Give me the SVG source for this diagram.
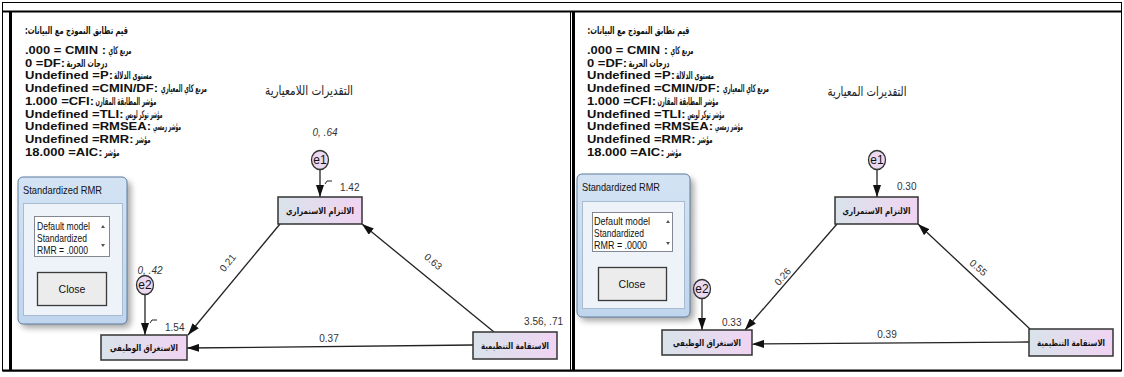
<svg xmlns="http://www.w3.org/2000/svg" width="1124" height="377" viewBox="0 0 1124 377">
<style>
.en{font-family:"Liberation Sans",Arial,sans-serif;font-weight:bold;font-size:11.3px;fill:#111}
.ar{font-family:"DejaVu Sans",sans-serif;font-weight:bold;font-size:10.5px;fill:#111}
.head{font-family:"DejaVu Sans",sans-serif;font-size:13px;fill:#222}
.box{fill:url(#boxg);stroke:#333;stroke-width:1.5}
.boxt{font-family:"DejaVu Sans",sans-serif;font-weight:bold;font-size:8.8px;fill:#111}
.err{fill:#ead9f0;stroke:#333;stroke-width:1.3}
.errt{font-family:"Liberation Sans",Arial,sans-serif;font-size:12px;fill:#111}
.num{font-family:"Liberation Sans",Arial,sans-serif;font-size:10px;fill:#333}
.var{font-family:"Liberation Sans",Arial,sans-serif;font-size:10px;font-style:italic;fill:#333}
.con{stroke:#222;stroke-width:1.3;fill:none;marker-end:url(#ah)}
.tick{stroke:#222;stroke-width:1;fill:none}
.dlg{fill:url(#aero);stroke:#5f7d9e;stroke-width:1}
.dlgin{fill:#edf3f9;stroke:#a9bccf;stroke-width:1}
.lst{fill:#fff;stroke:#828790;stroke-width:1}
.dt{font-family:"Liberation Sans",Arial,sans-serif;font-size:10.5px;fill:#111}
.btn{fill:#ececec;stroke:#3a3a3a;stroke-width:1.3}
.frm{stroke:#000;fill:none}
</style>
<defs>
<linearGradient id="boxg" x1="0" y1="0" x2="1" y2="0">
<stop offset="0" stop-color="#d9e3ea"/>
<stop offset="1" stop-color="#f0d4f3"/>
</linearGradient>
<linearGradient id="aero" x1="0" y1="0" x2="0" y2="1">
<stop offset="0" stop-color="#d3e3f4"/>
<stop offset="1" stop-color="#c0d6ee"/>
</linearGradient>
<filter id="sh" x="-20%" y="-20%" width="140%" height="140%">
<feGaussianBlur stdDeviation="3"/>
</filter>
<marker id="ah" markerWidth="12" markerHeight="8" refX="12" refY="4" orient="auto" markerUnits="userSpaceOnUse">
<path d="M0,0 L12,4 L0,8 z" fill="#111"/>
</marker>
</defs>
<rect width="1124" height="377" fill="#fff"/>

<g id="frame">
<rect class="frm" x="2.5" y="2.5" width="1119" height="368.5" stroke-width="1"/>
<line class="frm" x1="3" y1="11.5" x2="1121" y2="11.5" stroke-width="2"/>
<line class="frm" x1="10.5" y1="11" x2="10.5" y2="371" stroke-width="3"/>
<line class="frm" x1="570.5" y1="11" x2="570.5" y2="371" stroke-width="1"/>
<line class="frm" x1="573.5" y1="11" x2="573.5" y2="371" stroke-width="3"/>
<line class="frm" x1="3" y1="370.5" x2="1121" y2="370.5" stroke-width="2"/>
</g>

<!-- LEFT PANEL -->
<g id="L-fit">
<text class="ar" x="76.5" y="34" text-anchor="middle" direction="rtl" textLength="103" lengthAdjust="spacingAndGlyphs">قيم تطابق النموذج مع البيانات:</text>
<text class="en" x="25" y="54" textLength="81" lengthAdjust="spacingAndGlyphs">.000 = CMIN :</text>
<text class="ar" x="120" y="54" text-anchor="middle" textLength="23" lengthAdjust="spacingAndGlyphs">مربع كاي</text>
<text class="en" x="25" y="66.7" textLength="40" lengthAdjust="spacingAndGlyphs">0 =DF:</text>
<text class="ar" x="87" y="66.7" text-anchor="middle" textLength="41" lengthAdjust="spacingAndGlyphs">درجات الحرية</text>
<text class="en" x="25" y="79.4" textLength="88" lengthAdjust="spacingAndGlyphs">Undefined =P:</text>
<text class="ar" x="133" y="79.4" text-anchor="middle" textLength="38" lengthAdjust="spacingAndGlyphs">مستوى الدلالة</text>
<text class="en" x="25" y="92.1" textLength="133" lengthAdjust="spacingAndGlyphs">Undefined =CMIN/DF:</text>
<text class="ar" x="184" y="92.1" text-anchor="middle" textLength="46" lengthAdjust="spacingAndGlyphs">مربع كاي المعياري</text>
<text class="en" x="25" y="104.8" textLength="69" lengthAdjust="spacingAndGlyphs">1.000 =CFI:</text>
<text class="ar" x="126" y="104.8" text-anchor="middle" textLength="61" lengthAdjust="spacingAndGlyphs">مؤشر المطابقة المقارن</text>
<text class="en" x="25" y="117.5" textLength="98.5" lengthAdjust="spacingAndGlyphs">Undefined =TLI:</text>
<text class="ar" x="144" y="117.5" text-anchor="middle" textLength="37" lengthAdjust="spacingAndGlyphs">مؤشر توكر لويس</text>
<text class="en" x="25" y="130.2" textLength="126" lengthAdjust="spacingAndGlyphs">Undefined =RMSEA:</text>
<text class="ar" x="167" y="130.2" text-anchor="middle" textLength="28" lengthAdjust="spacingAndGlyphs">مؤشر رمسي</text>
<text class="en" x="25" y="142.9" textLength="108.5" lengthAdjust="spacingAndGlyphs">Undefined =RMR:</text>
<text class="ar" x="143" y="142.9" text-anchor="middle" textLength="15" lengthAdjust="spacingAndGlyphs">مؤشر</text>
<text class="en" x="25" y="155.6" textLength="77.5" lengthAdjust="spacingAndGlyphs">18.000 =AIC:</text>
<text class="ar" x="112" y="155.6" text-anchor="middle" textLength="15" lengthAdjust="spacingAndGlyphs">مؤشر</text>
</g>
<g id="L-heading">
<text class="head" x="309" y="95" text-anchor="middle" textLength="88" lengthAdjust="spacingAndGlyphs">التقديرات اللامعيارية</text>
</g>

<g id="L-dialog">
<rect x="21" y="181" width="110" height="147" rx="6" fill="#000" opacity="0.35" filter="url(#sh)"/>
<rect class="dlg" x="18" y="177" width="109" height="147" rx="5"/>
<text class="dt" x="23" y="194" font-size="11" textLength="79" lengthAdjust="spacingAndGlyphs">Standardized RMR</text>
<rect class="dlgin" x="23.5" y="203.5" width="99" height="112"/>
<rect class="lst" x="34.5" y="216.5" width="75" height="40"/>
<text class="dt" x="37" y="230" textLength="53" lengthAdjust="spacingAndGlyphs">Default model</text>
<text class="dt" x="37" y="241.5" textLength="50" lengthAdjust="spacingAndGlyphs">Standardized</text>
<text class="dt" x="37" y="253.5" textLength="51" lengthAdjust="spacingAndGlyphs">RMR = .0000</text>
<path d="M101,228 L103,225 L105,228 z" fill="#555"/>
<path d="M101,244 L103,247 L105,244 z" fill="#555"/>
<rect class="btn" x="37.5" y="272.5" width="69" height="33"/>
<text class="dt" x="72" y="293" text-anchor="middle" font-size="11">Close</text>
</g>

<g id="L-connectors">
<line class="con" x1="320" y1="169.5" x2="320" y2="197"/>
<line class="con" x1="145" y1="294.5" x2="145" y2="335"/>
<line class="con" x1="280" y1="224" x2="188" y2="335"/>
<line class="con" x1="494" y1="332" x2="362" y2="224"/>
<line class="con" x1="473" y1="345" x2="187" y2="348"/>
<path class="tick" d="M325,184 L327,181 L332,181"/>
<path class="tick" d="M150,323 L152,320 L157,320"/>
<text class="num" x="228" y="266" text-anchor="middle" transform="rotate(-51 228 263)">0.21</text>
<text class="num" x="433" y="265" text-anchor="middle" transform="rotate(40 433 262)">0.63</text>
<text class="num" x="329" y="342" text-anchor="middle">0.37</text>
</g>

<g id="L-e1">
<ellipse class="err" cx="320" cy="160" rx="8.5" ry="9.5"/>
<text class="errt" x="320" y="164.3" text-anchor="middle">e1</text>
<text class="var" x="325" y="136" text-anchor="middle">0, .64</text>
</g>
<g id="L-e2">
<ellipse class="err" cx="145" cy="285" rx="8.5" ry="9.5"/>
<text class="errt" x="145" y="289.3" text-anchor="middle">e2</text>
<text class="var" x="150" y="274" text-anchor="middle">0, .42</text>
</g>
<g id="L-A">
<rect class="box" x="278" y="197" width="84" height="27"/>
<text class="boxt" x="320" y="213.5" text-anchor="middle" textLength="68" lengthAdjust="spacingAndGlyphs">الالتزام الاستمراري</text>
<text class="num" x="340" y="191">1.42</text>
</g>
<g id="L-B">
<rect class="box" x="101" y="335" width="86" height="25"/>
<text class="boxt" x="144" y="350.5" text-anchor="middle" textLength="68" lengthAdjust="spacingAndGlyphs">الاستغراق الوظيفي</text>
<text class="num" x="165" y="331">1.54</text>
</g>
<g id="L-C">
<rect class="box" x="473" y="332" width="84" height="27"/>
<text class="boxt" x="515" y="348.5" text-anchor="middle" textLength="68" lengthAdjust="spacingAndGlyphs">الاستقامة التنظيمية</text>
<text class="num" x="563" y="325" text-anchor="end">3.56, .71</text>
</g>

<!-- RIGHT PANEL -->
<g id="R-fit">
<text class="ar" x="638.5" y="34" text-anchor="middle" direction="rtl" textLength="102" lengthAdjust="spacingAndGlyphs">قيم تطابق النموذج مع البيانات:</text>
<text class="en" x="587" y="54" textLength="81" lengthAdjust="spacingAndGlyphs">.000 = CMIN :</text>
<text class="ar" x="682" y="54" text-anchor="middle" textLength="23" lengthAdjust="spacingAndGlyphs">مربع كاي</text>
<text class="en" x="587" y="66.7" textLength="40" lengthAdjust="spacingAndGlyphs">0 =DF:</text>
<text class="ar" x="649" y="66.7" text-anchor="middle" textLength="41" lengthAdjust="spacingAndGlyphs">درجات الحرية</text>
<text class="en" x="587" y="79.4" textLength="88" lengthAdjust="spacingAndGlyphs">Undefined =P:</text>
<text class="ar" x="695" y="79.4" text-anchor="middle" textLength="38" lengthAdjust="spacingAndGlyphs">مستوى الدلالة</text>
<text class="en" x="587" y="92.1" textLength="133" lengthAdjust="spacingAndGlyphs">Undefined =CMIN/DF:</text>
<text class="ar" x="746" y="92.1" text-anchor="middle" textLength="46" lengthAdjust="spacingAndGlyphs">مربع كاي المعياري</text>
<text class="en" x="587" y="104.8" textLength="69" lengthAdjust="spacingAndGlyphs">1.000 =CFI:</text>
<text class="ar" x="688" y="104.8" text-anchor="middle" textLength="61" lengthAdjust="spacingAndGlyphs">مؤشر المطابقة المقارن</text>
<text class="en" x="587" y="117.5" textLength="98.5" lengthAdjust="spacingAndGlyphs">Undefined =TLI:</text>
<text class="ar" x="706" y="117.5" text-anchor="middle" textLength="37" lengthAdjust="spacingAndGlyphs">مؤشر توكر لويس</text>
<text class="en" x="587" y="130.2" textLength="126" lengthAdjust="spacingAndGlyphs">Undefined =RMSEA:</text>
<text class="ar" x="729" y="130.2" text-anchor="middle" textLength="28" lengthAdjust="spacingAndGlyphs">مؤشر رمسي</text>
<text class="en" x="587" y="142.9" textLength="108.5" lengthAdjust="spacingAndGlyphs">Undefined =RMR:</text>
<text class="ar" x="705" y="142.9" text-anchor="middle" textLength="15" lengthAdjust="spacingAndGlyphs">مؤشر</text>
<text class="en" x="587" y="155.6" textLength="77.5" lengthAdjust="spacingAndGlyphs">18.000 =AIC:</text>
<text class="ar" x="674" y="155.6" text-anchor="middle" textLength="15" lengthAdjust="spacingAndGlyphs">مؤشر</text>
</g>
<g id="R-heading">
<text class="head" x="867" y="96" text-anchor="middle" textLength="79" lengthAdjust="spacingAndGlyphs">التقديرات المعيارية</text>
</g>

<g id="R-dialog">
<rect x="580" y="178" width="114" height="143" rx="6" fill="#000" opacity="0.35" filter="url(#sh)"/>
<rect class="dlg" x="577" y="174" width="113" height="143" rx="5"/>
<text class="dt" x="582" y="191" font-size="11" textLength="78" lengthAdjust="spacingAndGlyphs">Standardized RMR</text>
<rect class="dlgin" x="582.5" y="201.5" width="102" height="107"/>
<rect class="lst" x="592.5" y="212.5" width="80" height="39"/>
<text class="dt" x="594" y="225" textLength="56" lengthAdjust="spacingAndGlyphs">Default model</text>
<text class="dt" x="594" y="236.5" textLength="50" lengthAdjust="spacingAndGlyphs">Standardized</text>
<text class="dt" x="594" y="248.5" textLength="53" lengthAdjust="spacingAndGlyphs">RMR = .0000</text>
<path d="M666,223 L668,220 L670,223 z" fill="#555"/>
<path d="M666,242 L668,245 L670,242 z" fill="#555"/>
<rect class="btn" x="598.5" y="267.5" width="68" height="33"/>
<text class="dt" x="632" y="288" text-anchor="middle" font-size="11">Close</text>
</g>

<g id="R-connectors">
<line class="con" x1="877" y1="169.5" x2="877" y2="197"/>
<line class="con" x1="702" y1="298.5" x2="702" y2="330"/>
<line class="con" x1="837" y1="224" x2="745" y2="330"/>
<line class="con" x1="1030" y1="329" x2="918" y2="224"/>
<line class="con" x1="1029" y1="342" x2="752" y2="344"/>
<text class="num" x="783" y="280" text-anchor="middle" transform="rotate(-49 783 277)">0.26</text>
<text class="num" x="978" y="271" text-anchor="middle" transform="rotate(41 978 268)">0.55</text>
<text class="num" x="887" y="338" text-anchor="middle">0.39</text>
</g>

<g id="R-e1">
<ellipse class="err" cx="877" cy="160" rx="8.5" ry="9.5"/>
<text class="errt" x="877" y="164.3" text-anchor="middle">e1</text>
</g>
<g id="R-e2">
<ellipse class="err" cx="702" cy="289" rx="8.5" ry="9.5"/>
<text class="errt" x="702" y="293.3" text-anchor="middle">e2</text>
</g>
<g id="R-A">
<rect class="box" x="835" y="197" width="83" height="27"/>
<text class="boxt" x="876.5" y="213.5" text-anchor="middle" textLength="68" lengthAdjust="spacingAndGlyphs">الالتزام الاستمراري</text>
<text class="num" x="897" y="190">0.30</text>
</g>
<g id="R-B">
<rect class="box" x="662" y="330" width="90" height="25"/>
<text class="boxt" x="707" y="345.5" text-anchor="middle" textLength="68" lengthAdjust="spacingAndGlyphs">الاستغراق الوظيفي</text>
<text class="num" x="722" y="326">0.33</text>
</g>
<g id="R-C">
<rect class="box" x="1029" y="329" width="84" height="27"/>
<text class="boxt" x="1071" y="345.5" text-anchor="middle" textLength="68" lengthAdjust="spacingAndGlyphs">الاستقامة التنظيمية</text>
</g>
</svg>
